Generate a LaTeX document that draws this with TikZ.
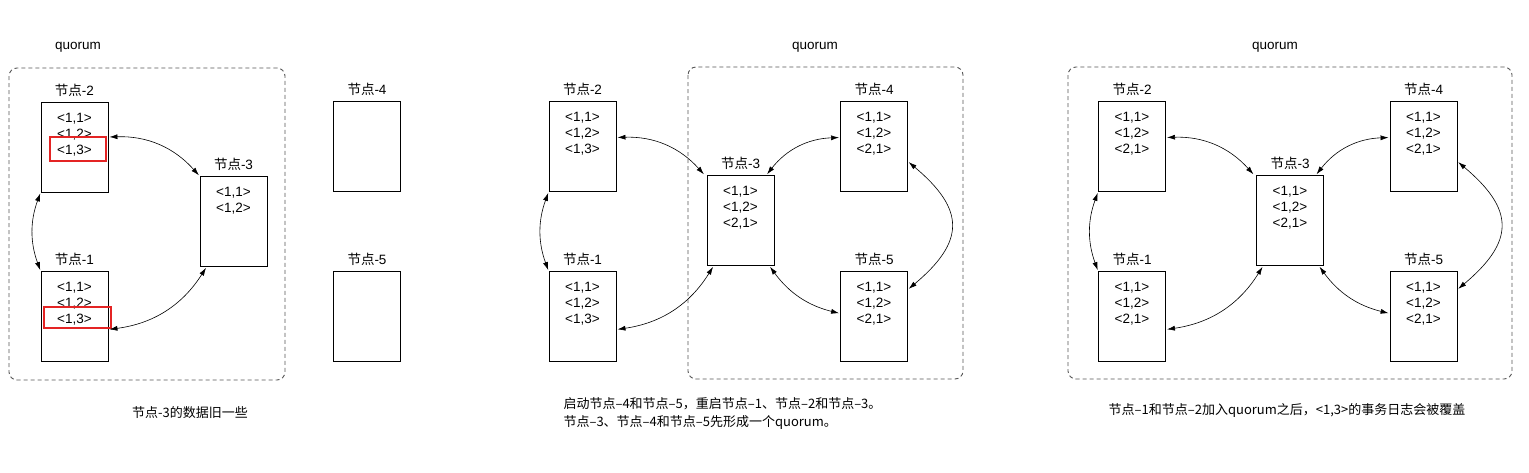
\documentclass[tikz,border=0pt]{standalone}
\usepackage{fontspec}
\setmainfont{Liberation Sans}
\newfontfamily\cjk{Noto Sans CJK SC}
\usetikzlibrary{arrows.meta, positioning}
\newcommand\jd{{\cjk 节点}}
\definecolor{boxred}{RGB}{228,36,36}
\definecolor{frameg}{RGB}{85,85,85}

\begin{document}
\begin{tikzpicture}[x=1pt, y=1pt, font=\fontsize{13.5}{16}\selectfont,
  box/.style={draw, line width=0.9pt, minimum width=67pt, minimum height=90pt, inner sep=0pt},
  title/.style={inner sep=1pt},
  entries/.style={align=center, inner sep=0pt},
  link/.style={<->, >={Latex[length=8pt,width=5pt]}, line width=0.6pt, shorten >=1pt, shorten <=1pt},
  frame/.style={draw=frameg, dash pattern=on 4pt off 3pt, line width=0.9pt, rounded corners=8pt},
  redmark/.style={draw=boxred, line width=2pt},
  caption/.style={font=\cjk\fontsize{13}{18}\selectfont, align=left}]
  \useasboundingbox (0,0) rectangle (1529,-472);

  % quorum frames
  \draw[frame] (9,-68) rectangle (285,-380);
  \draw[frame] (688,-67) rectangle (963,-379);
  \draw[frame] (1068,-67) rectangle (1512,-379);
  \node (q1) at (78,-47) {quorum};
  \node (q2) at (815,-47) {quorum};
  \node (q3) at (1275,-47) {quorum};

  % panel 1
  \node[box] (a2) at (74.5,-147) {};
  \node[box] (a1) at (74.5,-316.5) {};
  \node[box] (a3) at (233.5,-221.5) {};
  \node[box] (a4) at (367,-146.5) {};
  \node[box] (a5) at (367,-316.5) {};
  \foreach \n in {1,...,5}
    \node[title, above=4pt of a\n] (a\n t) {\jd-\n};
  \node[entries, below=11pt of a2.north] (a2e) {<1,1>\\<1,2>\\<1,3>};
  \node[entries, below=11pt of a1.north] (a1e) {<1,1>\\<1,2>\\<1,3>};
  \node[entries, below=11pt of a3.north] (a3e) {<1,1>\\<1,2>};
  \draw[redmark] (50,-137) rectangle (106,-161);
  \draw[redmark] (44,-307) rectangle (111,-328);

  \draw[link] ([yshift=10pt]a2.east) to[bend left=25] (a3.north west);
  \draw[link] (a2.south west) to[bend right=20] (a1.north west);
  \draw[link] ([yshift=-13pt]a1.east) to[bend right=25] ([xshift=7pt]a3.south west);

  % panel 2
  \node[box] (b2) at (582.5,-146.5) {};
  \node[box] (b1) at (582.5,-316.5) {};
  \node[box] (b3) at (740.5,-220.5) {};
  \node[box] (b4) at (874,-146.5) {};
  \node[box] (b5) at (874,-316.5) {};
  \node[entries, below=11pt of b2.north] (b2e) {<1,1>\\<1,2>\\<1,3>};
  \node[entries, below=11pt of b1.north] (b1e) {<1,1>\\<1,2>\\<1,3>};

  % panel 3
  \node[box] (c2) at (1132,-146.5) {};
  \node[box] (c1) at (1132,-316.5) {};
  \node[box] (c3) at (1290,-220.5) {};
  \node[box] (c4) at (1423.5,-146.5) {};
  \node[box] (c5) at (1423.5,-316.5) {};
  \node[entries, below=11pt of c2.north] (c2e) {<1,1>\\<1,2>\\<2,1>};
  \node[entries, below=11pt of c1.north] (c1e) {<1,1>\\<1,2>\\<2,1>};

  \foreach \p in {b,c} {
    \foreach \n in {1,...,5}
      \node[title, above=4pt of \p\n] (\p\n t) {\jd-\n};
    \foreach \n in {3,4,5}
      \node[entries, below=11pt of \p\n.north] (\p\n e) {<1,1>\\<1,2>\\<2,1>};
    \draw[link] ([yshift=9pt]\p2.east) to[bend left=25] ([xshift=-2pt]\p3.north west);
    \draw[link] (\p2.south west) to[bend right=20] (\p1.north west);
    \draw[link] ([yshift=-13pt]\p1.east) to[bend right=25] ([xshift=7pt]\p3.south west);
    \draw[link] ([yshift=9pt]\p4.west) to[bend right=25] ([xshift=-8pt]\p3.north east);
    \draw[link] ([xshift=-5pt]\p3.south east) to[bend right=20] ([yshift=3pt]\p5.west);
    \draw[link] ([yshift=-15pt]\p4.east) to[out=-40, in=40, looseness=1.5] ([yshift=27pt]\p5.east);
  }

  % captions
  \node[caption] (cap1) at (190,-413) {节点-3的数据旧一些};
  \node[caption, anchor=west] (cap2) at (560,-414)
    {启动节点–4和节点–5，重启节点–1、节点–2和节点–3。\\节点–3、节点–4和节点–5先形成一个quorum。};
  \node[caption] (cap3) at (1287,-410) {节点–1和节点–2加入quorum之后，<1,3>的事务日志会被覆盖};
\end{tikzpicture}
\end{document}
